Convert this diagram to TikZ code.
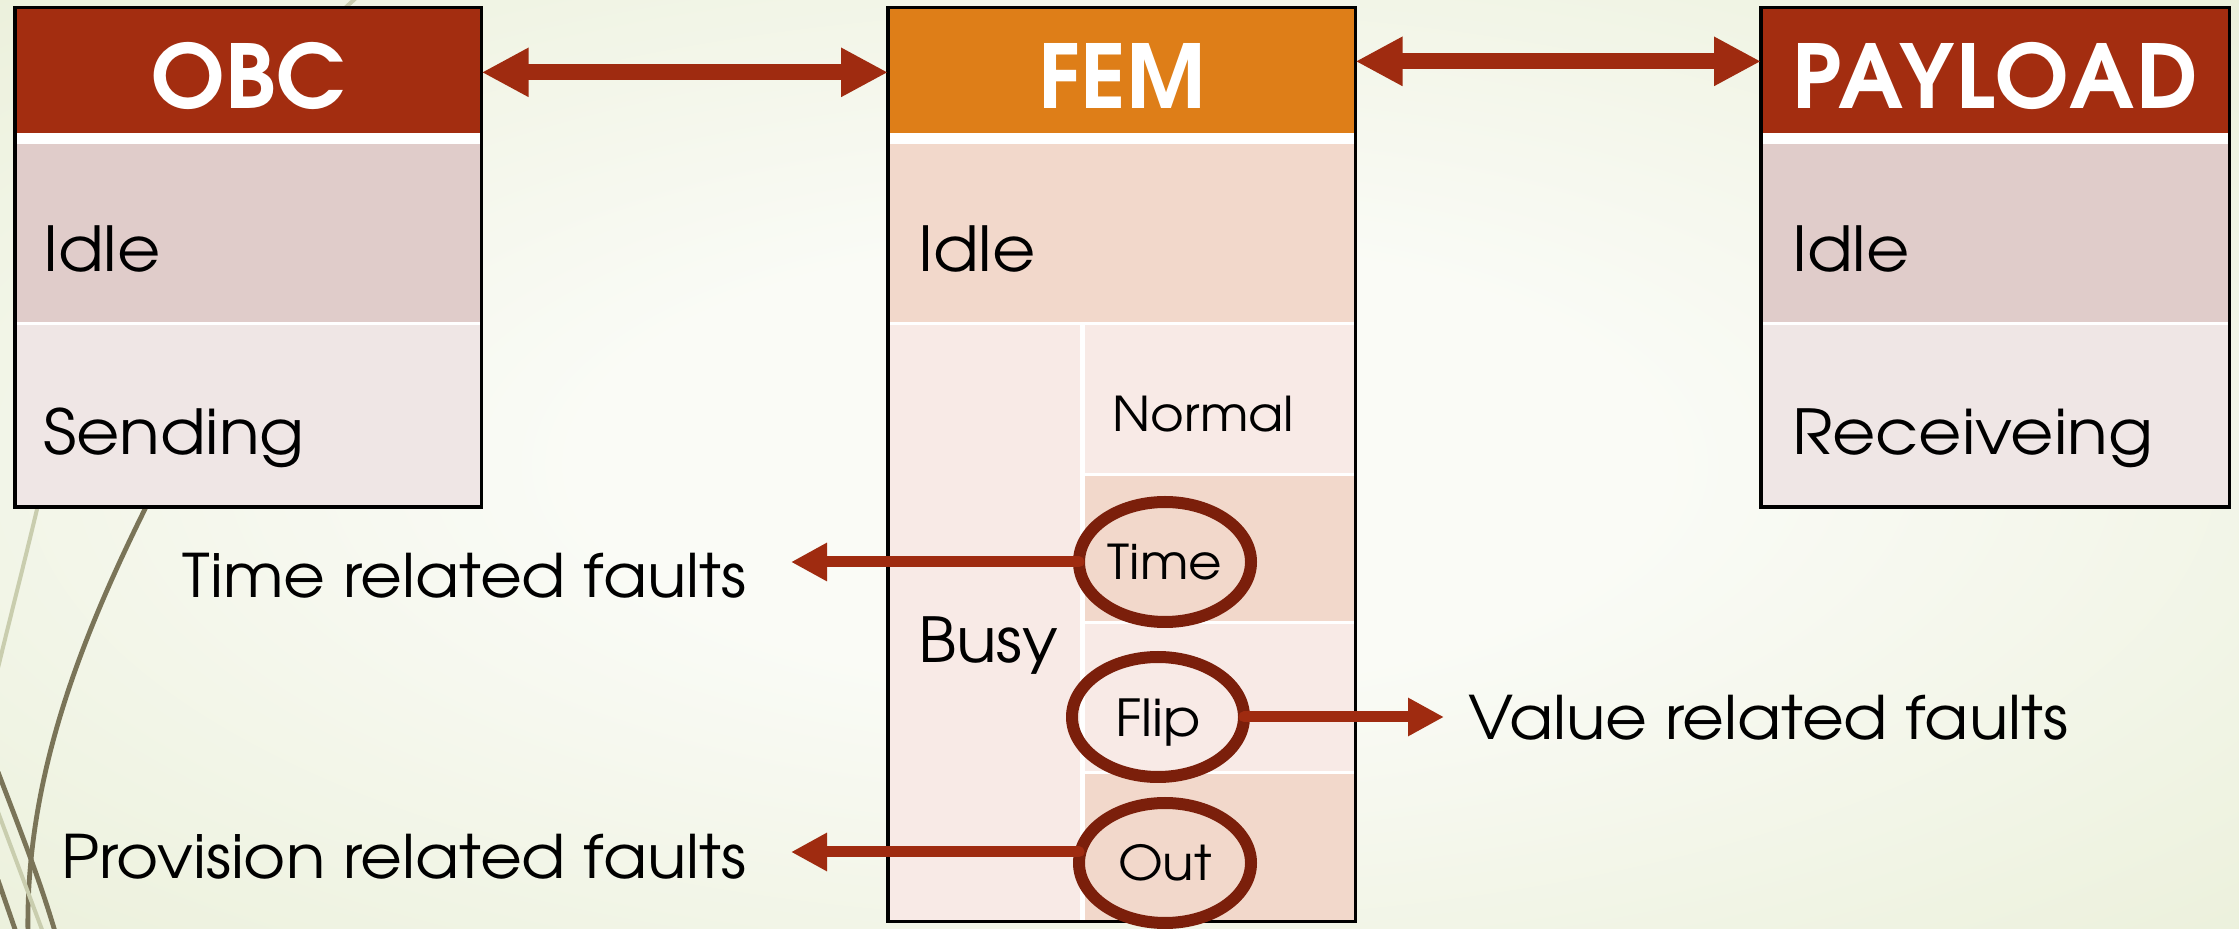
\documentclass[tikz,border=0pt]{standalone}
\usepackage{fontspec}
\setmainfont{TeX Gyre Adventor}[FakeStretch=1.075]
\newfontfamily\hdrfont{TeX Gyre Adventor}
\usetikzlibrary{arrows.meta,shapes.geometric}
\definecolor{bgin}{HTML}{FAFBF6}
\definecolor{bgout}{HTML}{DCE5BF}
\definecolor{acc1}{HTML}{A32D10}
\definecolor{acc2}{HTML}{DE7E18}
\definecolor{obcA}{HTML}{E0CCCA}
\definecolor{obcB}{HTML}{EFE6E5}
\definecolor{femA}{HTML}{F2D8CB}
\definecolor{femB}{HTML}{F8EAE6}
\definecolor{arrowc}{HTML}{9F2B10}
\definecolor{ringc}{HTML}{7B1F0B}
\definecolor{curveD}{HTML}{7A7458}
\definecolor{curveL}{HTML}{C9CDAE}
\pgfdeclareradialshading{bgshade}{\pgfpoint{0bp}{0bp}}{color(0bp)=(bgin); color(12bp)=(bgin); color(62bp)=(bgout); color(80bp)=(bgout)}
\begin{document}
\begin{tikzpicture}[x=0.5pt,y=-0.5pt,
  celltxt/.style={inner sep=0pt, outer sep=0pt, anchor=base west, font=\fontsize{31}{36}\selectfont},
  subtxt/.style={inner sep=0pt, outer sep=0pt, anchor=base west, font=\fontsize{24}{30}\selectfont},
  hdr/.style={inner sep=0pt, outer sep=0pt, anchor=north west, minimum height=62.65pt,
     text height=38pt, text depth=0pt, text=white, font=\hdrfont\fontsize{44}{50}\selectfont\bfseries},
  faultlbl/.style={inner ysep=0pt, outer sep=0pt, font=\fontsize{30}{36}\selectfont},
  ring/.style={ellipse, draw=ringc, line width=6pt, minimum width=86pt, minimum height=60pt,
     inner sep=0pt, outer sep=0pt, text height=18pt, text depth=0pt, font=\fontsize{24}{30}\selectfont},
  bigarrow/.style={draw=arrowc, line width=8pt, {Triangle[length=23.5pt,width=23pt]}-{Triangle[length=23.5pt,width=23pt]}},
  faultarrow/.style={draw=arrowc, line width=5.5pt, line cap=round, -{Triangle[length=18pt,width=18pt]}},
  boxborder/.style={draw=black, line width=1.7pt},
  deco/.style={line width=2.4pt, draw=curveD},
  decolight/.style={line width=2pt, draw=curveL}
]
\useasboundingbox (0,0) rectangle (2239,929);
\shade[shading=bgshade] (0,0) rectangle (2239,929);

% decorative background curves
\draw[decolight] (356,-2) -- (345,8);
\draw[decolight] (38,505) .. controls (25,560) and (12,610) .. (-2,668);
\draw[deco] (147,505) .. controls (80,640) and (25,780) .. (28,935);
\draw[deco] (-2,772) .. controls (20,830) and (40,880) .. (56,935);
\draw[decolight] (-2,812) -- (44,935);
\draw[deco] (-2,880) -- (17,935);

% ---------- OBC ----------
\fill[white] (15,7.7) rectangle (481.7,507);
\node[hdr, fill=acc1, minimum width=233.35pt] (obch) at (15,7.7) {OBC};
\fill[obcA] (15,144) rectangle (481.7,322);
\fill[obcB] (15,325) rectangle (481.7,507);
\node[celltxt] (obcidle) at (43,272) {Idle};
\node[celltxt] (obcsend) at (43,455) {Sending};
\draw[boxborder] (15,7.7) rectangle (481.7,507);

% ---------- FEM ----------
\fill[white] (888,7.7) rectangle (1355.5,921.5);
\node[hdr, fill=acc2, minimum width=233.75pt] (femh) at (888,7.7) {FEM};
\fill[femA] (888,144) rectangle (1355.5,322);
\fill[femB] (888,325) rectangle (1080,921.5);
\fill[femB] (1085,325) rectangle (1355.5,473);
\fill[femA] (1085,476) rectangle (1355.5,621);
\fill[femB] (1085,624) rectangle (1355.5,771);
\fill[femA] (1085,774) rectangle (1355.5,921.5);
\node[celltxt] (femidle) at (918,272) {Idle};
\node[celltxt] (fembusy) at (918,663) {Busy};
\node[subtxt] (femnormal) at (1112,432) {Normal};
\draw[boxborder] (888,7.7) rectangle (1355.5,921.5);

% ---------- PAYLOAD ----------
\fill[white] (1761,7.7) rectangle (2229.5,507);
\node[hdr, fill=acc1, minimum width=234.25pt] (payh) at (1761,7.7) {\addfontfeatures{LetterSpace=3}PAYLOAD};
\fill[obcA] (1761,144) rectangle (2229.5,322);
\fill[obcB] (1761,325) rectangle (2229.5,507);
\node[celltxt] (payidle) at (1792,272) {Idle};
\node[celltxt] (payrecv) at (1792,455) {Receiveing};
\draw[boxborder] (1761,7.7) rectangle (2229.5,507);

% ---------- rings ----------
\node[ring] (time) at (1165,562) {Time};
\node[ring, font=\fontsize{25.5}{30}\selectfont, text height=19.5pt] (flip) at (1158,717) {Flip};
\node[ring] (out) at (1165,863) {Out};

% ---------- labels ----------
\node[faultlbl, inner xsep=22.5pt, anchor=base east] (tfl) at (791,598) {Time related faults};
\node[faultlbl, inner xsep=22.5pt, anchor=base east] (pfl) at (791,878) {Provision related faults};
\node[faultlbl, inner xsep=12pt, anchor=base west] (vfl) at (1444,740) {Value related faults};

% ---------- connectors ----------
\draw[bigarrow] ([yshift=-1pt]obch.east) -- ([yshift=-1pt]femh.west);
\draw[bigarrow] ([yshift=4.5pt]femh.east) -- ([yshift=4.5pt]payh.west);
\draw[faultarrow] (time.west) -- (time.west -| tfl.east);
\draw[faultarrow] (flip.east) -- (flip.east -| vfl.west);
\draw[faultarrow] ([yshift=5.5pt]out.west) -- ([yshift=5.5pt]out.west -| pfl.east);
\end{tikzpicture}
\end{document}
